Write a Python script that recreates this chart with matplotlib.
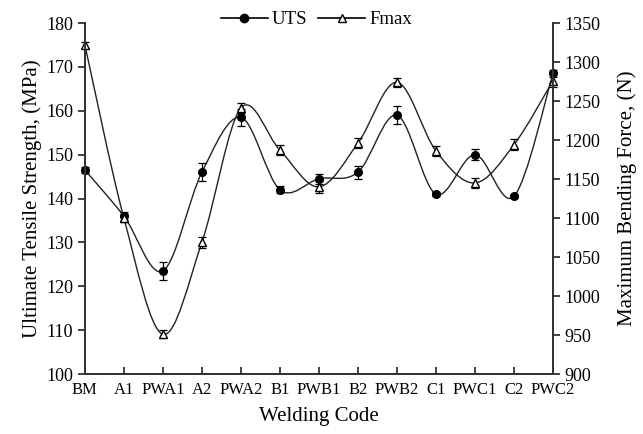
import numpy as np
import matplotlib
matplotlib.use("Agg")
import matplotlib.pyplot as plt
from matplotlib.path import Path
from matplotlib.patches import PathPatch

plt.rcParams['font.family'] = ['Liberation Serif', 'DejaVu Serif']

codes = ['BM', 'A1', 'PWA1', 'A2', 'PWA2', 'B1', 'PWB1', 'B2', 'PWB2', 'C1', 'PWC1', 'C2', 'PWC2']
uts = [146.5, 136, 123.5, 146, 158.5, 142, 144.5, 146, 159, 141, 150, 140.5, 168.5]
uts_err = [0.7, 1.0, 2.0, 2.0, 2.0, 0.8, 1.2, 1.5, 2.0, 0.5, 1.2, 0.4, 0.8]
fmax = [1322, 1100, 951, 1069, 1241, 1187, 1140, 1196, 1274, 1186, 1145, 1194, 1276]
fmax_err = [4, 5, 5, 7, 6, 6, 8, 6, 6, 6, 6, 7, 8]


def smooth_path(xs, ys):
    # Catmull-Rom style bezier, like Excel smoothed lines
    n = len(xs)
    verts = [(xs[0], ys[0])]
    kinds = [Path.MOVETO]
    for i in range(n - 1):
        i0 = max(i - 1, 0)
        i3 = min(i + 2, n - 1)
        c1 = (xs[i] + (xs[i + 1] - xs[i0]) / 6, ys[i] + (ys[i + 1] - ys[i0]) / 6)
        c2 = (xs[i + 1] - (xs[i3] - xs[i]) / 6, ys[i + 1] - (ys[i3] - ys[i]) / 6)
        verts += [c1, c2, (xs[i + 1], ys[i + 1])]
        kinds += [Path.CURVE4] * 3
    return Path(verts, kinds)


def noclip(container):
    for art in container.lines:
        if isinstance(art, (tuple, list)):
            for a in art:
                a.set_clip_on(False)
        elif art is not None:
            art.set_clip_on(False)


fig = plt.figure(figsize=(6.43, 4.34), dpi=100)
ax = fig.add_axes([0.132, 0.138, 0.728, 0.809])
ax2 = ax.twinx()

x = np.arange(len(codes))

ax.add_patch(PathPatch(smooth_path(x, uts), fill=False, color='#222222', lw=1.0, clip_on=False))
e1 = ax.errorbar(x, uts, yerr=uts_err, fmt='o', color='black', ms=5.5, capsize=3, elinewidth=0.9, capthick=0.9)
noclip(e1)

ax2.add_patch(PathPatch(smooth_path(x, fmax), fill=False, color='#222222', lw=1.0, clip_on=False))
e2 = ax2.errorbar(x, fmax, yerr=fmax_err, fmt='^', color='black', mfc='white', ms=6, capsize=3, elinewidth=0.9, capthick=0.9)
noclip(e2)

ax.set_xlim(0, len(codes) - 1)
ax.set_ylim(100, 180)
ax2.set_ylim(900, 1350)
ax.set_xticks(x)
ax.set_xticklabels(codes)
ax.set_yticks(np.arange(100, 181, 10))
ax2.set_yticks(np.arange(900, 1351, 50))

for a in (ax, ax2):
    a.spines['top'].set_visible(False)
    for s in a.spines.values():
        s.set_color('#333333')
        s.set_linewidth(1.4)
ax.tick_params(axis='x', direction='in', length=5, width=1.3, labelsize=12, pad=6, color='#333333')
ax.tick_params(axis='y', direction='out', length=5, width=1.3, labelsize=13, color='#333333')
ax2.tick_params(axis='y', direction='out', length=5, width=1.3, labelsize=13, color='#333333')

ax.set_xlabel('Welding Code', fontsize=15, labelpad=6)
ax.set_ylabel('Ultimate Tensile Strength, (MPa)', fontsize=15, labelpad=3)
ax2.set_ylabel('Maximum Bending Force, (N)', fontsize=15, labelpad=12)

h1 = plt.Line2D([], [], color='black', marker='o', ms=6, lw=1.2)
h2 = plt.Line2D([], [], color='black', marker='^', mfc='white', ms=6, lw=1.2)
fig.legend([h1, h2], ['UTS', 'Fmax'], loc='center', bbox_to_anchor=(0.492, 0.955), ncol=2,
           frameon=False, fontsize=13.5, handlelength=2.5, columnspacing=0.6, handletextpad=0.2)

fig.savefig('out.png', dpi=100)
